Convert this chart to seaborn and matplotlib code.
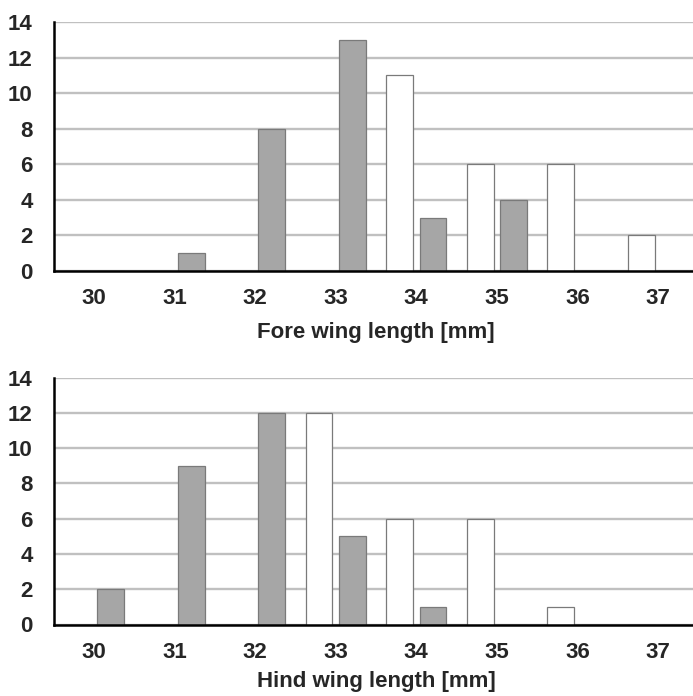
import matplotlib
matplotlib.use("Agg")
import matplotlib.pyplot as plt
import seaborn as sns
import pandas as pd
import numpy as np

categories = ["30", "31", "32", "33", "34", "35", "36", "37"]
series_names = ["white", "gray"]
fore_white = [0, 0, 0, 0, 11, 6, 6, 2]
fore_gray = [0, 1, 8, 13, 3, 4, 0, 0]
hind_white = [0, 0, 0, 12, 6, 6, 1, 0]
hind_gray = [2, 9, 12, 5, 1, 0, 0, 0]
yticks = [0, 2, 4, 6, 8, 10, 12, 14]
xlabels = ["Fore wing length [mm]", "Hind wing length [mm]"]

sns.set_theme(style="white")
plt.rcParams["font.family"] = ["Liberation Sans", "DejaVu Sans"]
plt.rcParams["font.weight"] = "bold"

def make_df(white, gray):
    rows = []
    for c, w, g in zip(categories, white, gray):
        rows.append({"cat": c, "series": series_names[0], "n": w})
        rows.append({"cat": c, "series": series_names[1], "n": g})
    return pd.DataFrame(rows)

fig = plt.figure(figsize=(6.93, 6.96), dpi=100)
W, H = 693, 696
left = 53.5 / W
width = 645 / W
ax_top = fig.add_axes([left, 1 - 271 / H, width, 249 / H])
ax_bot = fig.add_axes([left, 1 - 624.5 / H, width, 247 / H])

palette = {series_names[0]: "#ffffff", series_names[1]: "#a6a6a6"}
FS = 16

for ax, (white, gray), xl, lp in zip([ax_top, ax_bot],
                                     [(fore_white, fore_gray), (hind_white, hind_gray)],
                                     xlabels, [9, 6]):
    df = make_df(white, gray)
    ax.set_axisbelow(True)
    sns.barplot(data=df, x="cat", y="n", hue="series", order=categories,
                hue_order=series_names, palette=palette, width=0.83, gap=0.2,
                edgecolor="#7a7a7a", linewidth=0.9, saturation=1, legend=False, ax=ax)
    ax.set_ylim(0, 14)
    ax.set_xlim(-0.5, 7.5)
    ax.set_yticks(yticks)
    ax.set_yticklabels([str(t) for t in yticks], fontsize=FS, fontweight="bold")
    ax.yaxis.grid(True, color="#c0c0c0", linewidth=1.7)
    ax.xaxis.grid(False)
    ax.set_xticks(range(len(categories)))
    ax.set_xticklabels(categories, fontsize=FS, fontweight="bold")
    ax.set_xticks(np.arange(-0.5, 8.0, 1.0), minor=True)
    ax.tick_params(axis="x", which="major", length=0, pad=12.5)
    ax.tick_params(axis="x", which="minor", length=5, width=1.5, color="black", direction="out")
    ax.tick_params(axis="y", which="major", length=5, width=1.5, color="black", direction="out", pad=10)
    ax.set_xlabel(xl, fontsize=FS, fontweight="bold", labelpad=lp)
    ax.set_ylabel("")
    for s in ["top", "right"]:
        ax.spines[s].set_visible(False)
    for s in ["left", "bottom"]:
        ax.spines[s].set_visible(True)
        ax.spines[s].set_color("black")
        ax.spines[s].set_linewidth(1.8)

fig.savefig("out.png", dpi=100, facecolor="white")
